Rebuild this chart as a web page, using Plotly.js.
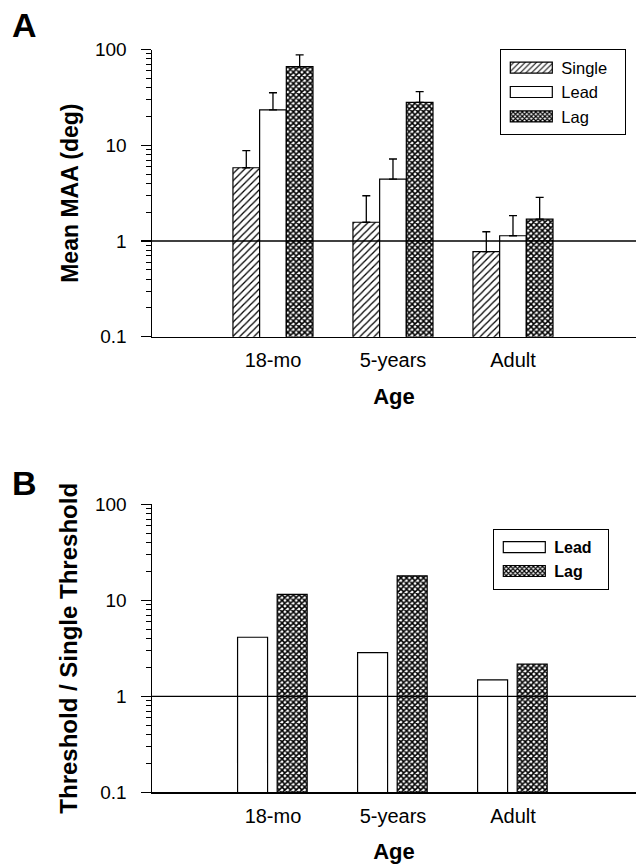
<!DOCTYPE html>
<html>
<head>
<meta charset="utf-8">
<script src="https://cdn.plot.ly/plotly-3.0.1.min.js"></script>
<style>html,body{margin:0;padding:0;background:#fff;}#chart{width:636px;height:867px;}</style>
</head>
<body>
<div id="chart"></div>
<script>
// ---- data ----
const ages = ["18-mo", "5-years", "Adult"];
// Panel A: mean MAA (deg)
const singleMAA = [5.83, 1.57, 0.773];
const singleHi  = [8.8, 2.97, 1.25];
const leadMAA   = [23.4, 4.44, 1.135];
const leadHi    = [35.4, 7.19, 1.84];
const lagMAA    = [66.3, 28.1, 1.69];
const lagHi     = [87.9, 36.3, 2.86];
// Panel B: threshold / single threshold
const leadRatio = [4.12, 2.85, 1.48];
const lagRatio  = [11.55, 18.0, 2.17];
const yTickVals = [0.1, 1, 10, 100];
const yTickText = ["0.1", "1", "10", "100"];
const refLevel = 1;

const FONT = "Liberation Sans, Arial, Helvetica, sans-serif";
const W = 636, H = 867, L = 152;

function errUp(vals, hi) {
  return {type: "data", symmetric: false,
    array: hi.map((h, i) => h - vals[i]),
    arrayminus: vals.map(() => 0),
    color: "black", thickness: 1.3, width: 4};
}
const lineStyle = {color: "black", width: 1.2};
const hatch = {shape: "/", fgcolor: "black", bgcolor: "white", size: 5, solidity: 0.25};
const cross = {shape: "x", fgcolor: "black", bgcolor: "white", size: 4, solidity: 0.62};

const traces = [
  {type: "bar", name: "Single", x: ages, y: singleMAA, xaxis: "x", yaxis: "y", legend: "legend",
   marker: {color: "white", line: lineStyle, pattern: hatch}, error_y: errUp(singleMAA, singleHi)},
  {type: "bar", name: "Lead", x: ages, y: leadMAA, xaxis: "x", yaxis: "y", legend: "legend",
   marker: {color: "white", line: lineStyle}, error_y: errUp(leadMAA, leadHi)},
  {type: "bar", name: "Lag", x: ages, y: lagMAA, xaxis: "x", yaxis: "y", legend: "legend",
   marker: {color: "white", line: lineStyle, pattern: cross}, error_y: errUp(lagMAA, lagHi)},
  {type: "bar", name: "Lead", x: ages, y: leadRatio, xaxis: "x2", yaxis: "y2", legend: "legend2",
   width: 0.25, offset: -0.295,
   marker: {color: "white", line: lineStyle}},
  {type: "bar", name: "Lag", x: ages, y: lagRatio, xaxis: "x2", yaxis: "y2", legend: "legend2",
   width: 0.25, offset: 0.035,
   marker: {color: "white", line: lineStyle, pattern: cross}}
];

function yAxis(domain, anchor, title, tsize) {
  return {
    type: "log", domain: domain, anchor: anchor, range: [-1, 2],
    tickmode: "array", tickvals: yTickVals, ticktext: yTickText,
    ticks: "outside", ticklen: 10, tickwidth: 1.3, tickcolor: "black", ticklabelstandoff: 10,
    minor: {ticks: "outside", ticklen: 5, tickwidth: 1, tickcolor: "black", dtick: "D1", showgrid: false},
    showline: true, linecolor: "black", linewidth: 1.5, showgrid: false, zeroline: false,
    tickfont: {family: FONT, size: 19, color: "black"},
    title: {text: title, font: {family: FONT, size: tsize, color: "black", weight: "bold"}, standoff: 10}
  };
}
function xAxis(anchor) {
  return {
    type: "category", anchor: anchor, domain: [0, 1], range: [-1.008, 3.025],
    showline: true, linecolor: "black", linewidth: 1.5, showgrid: false, zeroline: false,
    ticks: "", ticklabelstandoff: 5,
    tickfont: {family: FONT, size: 20, color: "black"},
    title: {text: "Age", font: {family: FONT, size: 22, color: "black", weight: "bold"}, standoff: 18}
  };
}

const layout = {
  width: W, height: H,
  margin: {l: L, r: 0, t: 0, b: 0, autoexpand: false},
  paper_bgcolor: "white", plot_bgcolor: "white",
  barmode: "group", bargap: 0.333, bargroupgap: 0,
  showlegend: true,
  xaxis: xAxis("y"),
  yaxis: yAxis([1 - 336.7 / H, 1 - 49.6 / H], "x", "Mean MAA (deg)", 23),
  xaxis2: xAxis("y2"),
  yaxis2: yAxis([1 - 792.3 / H, 1 - 504.3 / H], "x2", "Threshold / Single Threshold", 24),
  legend: {x: (500 - L) / (W - L), y: 1 - 49 / H, xanchor: "left", yanchor: "top",
    bgcolor: "white", bordercolor: "black", borderwidth: 1.3, itemwidth: 50,
    font: {family: FONT, size: 16.5, color: "black"}, traceorder: "normal"},
  legend2: {x: (493 - L) / (W - L), y: 1 - 529 / H, xanchor: "left", yanchor: "top",
    bgcolor: "white", bordercolor: "black", borderwidth: 1.3, itemwidth: 50,
    font: {family: FONT, size: 16, color: "black", weight: "bold"}, traceorder: "normal"},
  shapes: [
    {type: "line", xref: "x domain", x0: 0, x1: 1, yref: "y", y0: refLevel, y1: refLevel, line: {color: "black", width: 1.3}},
    {type: "line", xref: "x2 domain", x0: 0, x1: 1, yref: "y2", y0: refLevel, y1: refLevel, line: {color: "black", width: 1.3}}
  ],
  annotations: [
    {text: "<b>A</b>", xref: "paper", yref: "paper", x: (10 - L) / (W - L), y: 1 - 25 / H, xanchor: "left", yanchor: "middle",
     showarrow: false, font: {family: FONT, size: 34, color: "black"}},
    {text: "<b>B</b>", xref: "paper", yref: "paper", x: (10 - L) / (W - L), y: 1 - 483 / H, xanchor: "left", yanchor: "middle",
     showarrow: false, font: {family: FONT, size: 34, color: "black"}}
  ]
};

// legend box sizes (px) to match the reference frames
const legendBoxW = {legend: 125, legend2: 115};

Plotly.newPlot("chart", traces, layout, {staticPlot: true}).then(function () {
  // widen legend swatches to match the reference's wide rectangles
  document.querySelectorAll(".legendpoints path").forEach(function (p) {
    p.setAttribute("d", "M21,5.5H-21V-5.5H21Z");
  });
  Object.keys(legendBoxW).forEach(function (k) {
    document.querySelectorAll("g." + k + " > rect.bg").forEach(function (r) {
      r.setAttribute("width", legendBoxW[k]);
    });
  });
});
</script>
</body>
</html>
